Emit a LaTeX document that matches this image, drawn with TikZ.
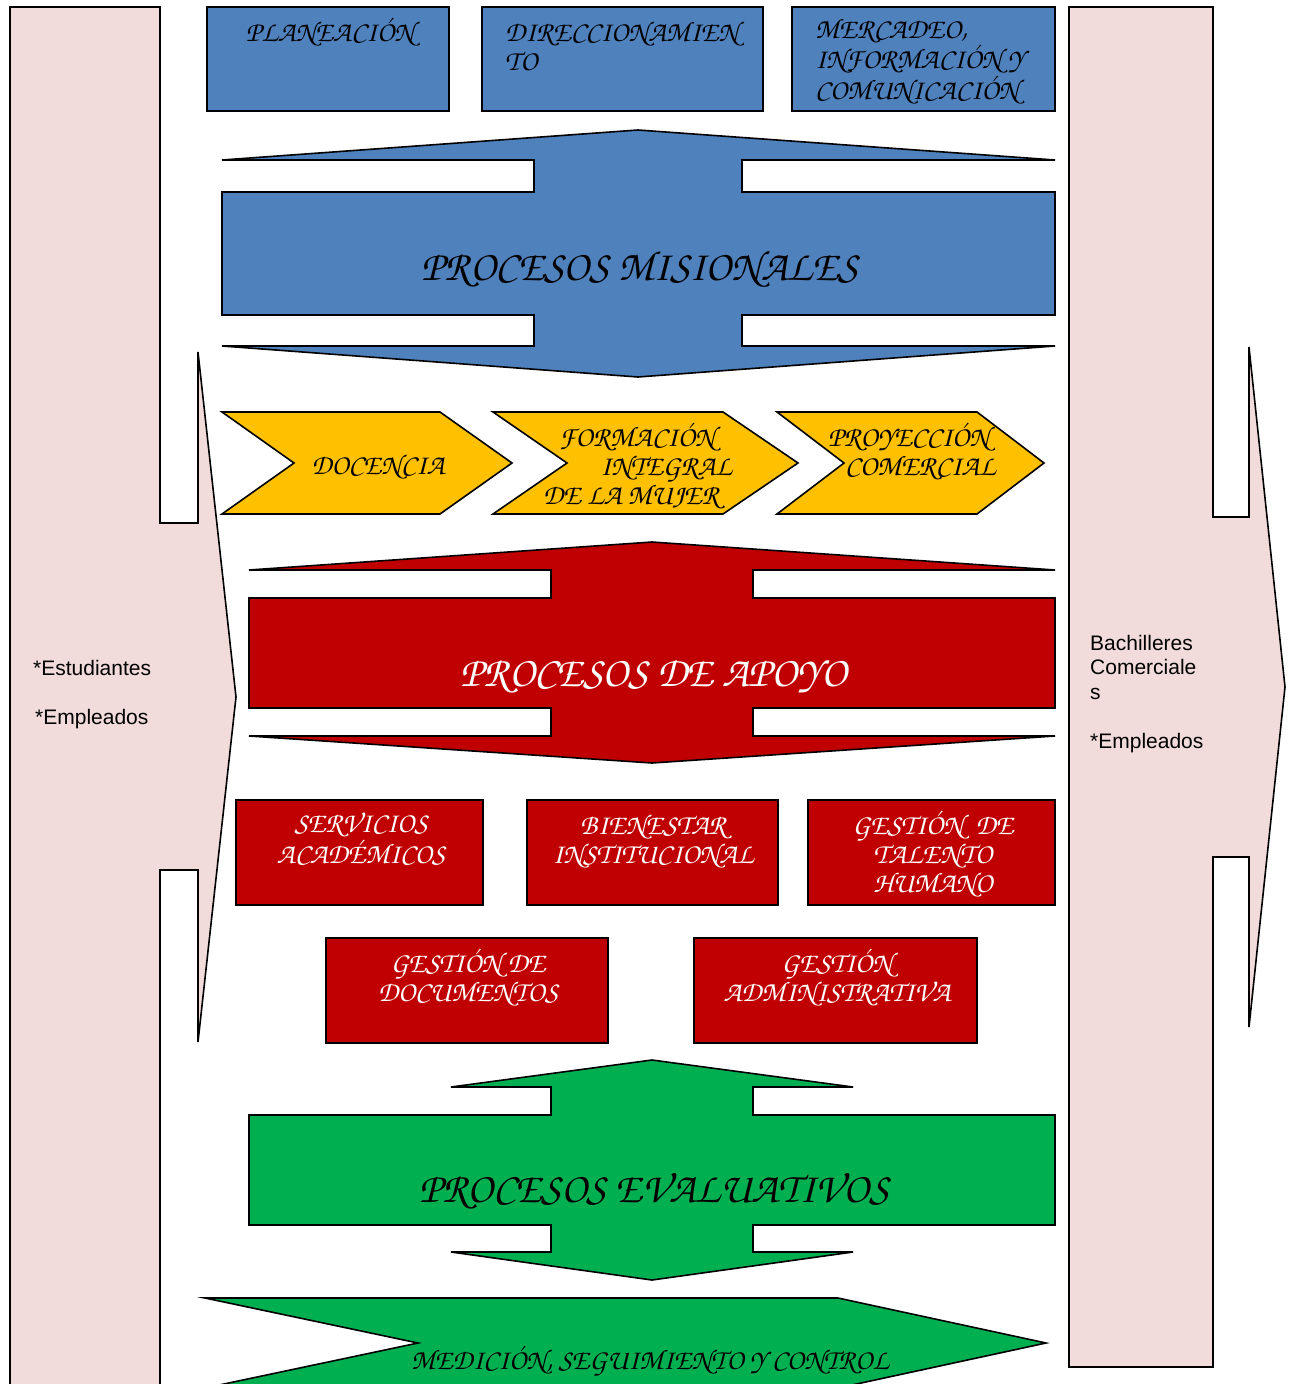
\documentclass[tikz,border=0pt]{standalone}
\usepackage[T1]{fontenc}
\usepackage{fontspec}
\newfontfamily\arialf{Liberation Sans}
\newfontfamily\serifit{Liberation Serif}
% calligraphic italic for the process labels
\IfFileExists{t1qzc.fd}{%
  \newcommand\corsiva{\fontencoding{T1}\fontfamily{qzc}\fontseries{m}\fontshape{it}\selectfont}%
  \def\smallsz{28.5}\def\bigsz{42.5}}{%
\IfFileExists{t1pzc.fd}{%
  \newcommand\corsiva{\fontencoding{T1}\fontfamily{pzc}\fontseries{m}\fontshape{it}\selectfont}%
  \def\smallsz{28.5}\def\bigsz{42.5}}{%
  \newcommand\corsiva{\serifit\itshape}%
  \def\smallsz{21}\def\bigsz{33}}}
\definecolor{pinkbg}{HTML}{F2DCDB}
\definecolor{misblue}{HTML}{4F81BD}
\definecolor{apored}{HTML}{C00000}
\definecolor{chevyel}{HTML}{FFC000}
\definecolor{evagreen}{HTML}{00B050}
\tikzset{
  outline/.style={draw=black, line width=1.6pt, line join=miter},
  scripttext/.style={inner sep=0pt, font=\corsiva\fontsize{\smallsz}{29}\selectfont},
  bigtitle/.style={inner sep=0pt, font=\corsiva\fontsize{\bigsz}{48}\selectfont},
  sidetext/.style={inner sep=0pt, anchor=base west, font=\arialf\fontsize{21}{24.5}\selectfont, align=left},
}
\begin{document}
\begin{tikzpicture}[x=1pt, y=-1pt]
\useasboundingbox (0,0) rectangle (1292,1384);
\begin{scope}
\clip (0,0) rectangle (1292,1384);

% side arrows (inputs on the left, outputs on the right)
\path[outline, fill=pinkbg] (10,7) -- (160,7) -- (160,523) -- (198,523) -- (198,352)
  -- (236,697) -- (198,1042) -- (198,870) -- (160,870) -- (160,1420) -- (10,1420) -- cycle;
\path[outline, fill=pinkbg] (1069,7) -- (1213,7) -- (1213,517) -- (1249,517) -- (1249,347)
  -- (1285,687) -- (1249,1027) -- (1249,857) -- (1213,857) -- (1213,1367) -- (1069,1367) -- cycle;

% top strategic boxes
\path[outline, fill=misblue] (207,7) rectangle (449,111);
\path[outline, fill=misblue] (482,7) rectangle (763,111);
\path[outline, fill=misblue] (792,7) rectangle (1055,111);

% missional processes (up-down callout)
\path[outline, fill=misblue] (638,130) -- (1055,160) -- (742,160) -- (742,192) -- (1055,192)
  -- (1055,315) -- (742,315) -- (742,346) -- (1055,346) -- (638,377) -- (222,346)
  -- (534,346) -- (534,315) -- (222,315) -- (222,192) -- (534,192) -- (534,160)
  -- (222,160) -- cycle;

% chevrons
\path[outline, fill=chevyel] (222,412) -- (440,412) -- (512,463) -- (440,514) -- (222,514) -- (294,463) -- cycle;
\path[outline, fill=chevyel] (493,412) -- (723,412) -- (798,463) -- (723,514) -- (493,514) -- (567,463) -- cycle;
\path[outline, fill=chevyel] (777,412) -- (977,412) -- (1044,463) -- (977,514) -- (777,514) -- (844,463) -- cycle;

% support processes
\path[outline, fill=apored] (652,542) -- (1055,570) -- (753,570) -- (753,598) -- (1055,598)
  -- (1055,708) -- (753,708) -- (753,736) -- (1055,736) -- (652,763) -- (249,736)
  -- (551,736) -- (551,708) -- (249,708) -- (249,598) -- (551,598) -- (551,570)
  -- (249,570) -- cycle;

\path[outline, fill=apored] (236,800) rectangle (483,905);
\path[outline, fill=apored] (527,800) rectangle (778,905);
\path[outline, fill=apored] (808,800) rectangle (1055,905);
\path[outline, fill=apored] (326,938) rectangle (608,1043);
\path[outline, fill=apored] (694,938) rectangle (977,1043);

% evaluative processes
\path[outline, fill=evagreen] (652,1060) -- (853,1087) -- (753,1087) -- (753,1115) -- (1055,1115)
  -- (1055,1225) -- (753,1225) -- (753,1252) -- (853,1252) -- (652,1280) -- (451,1252)
  -- (551,1252) -- (551,1225) -- (249,1225) -- (249,1115) -- (551,1115) -- (551,1087)
  -- (451,1087) -- cycle;

% measurement chevron
\path[outline, fill=evagreen] (205,1298) -- (838,1298) -- (1046,1343) -- (838,1388) -- (205,1388) -- (418,1343) -- cycle;
\end{scope}

% labels (multi-line nodes are placed by the baseline of their last line)
\node[sidetext] (inA) at (33,675) {*Estudiantes};
\node[sidetext] (inB) at (35,724) {*Empleados};
\node[sidetext] (outA) at (1090,748) {Bachilleres\\Comerciale\\s\\[24.5pt]*Empleados};

\node[scripttext, anchor=base] (plan) at (330,41) {PLANEACI\'ON};
\node[scripttext, anchor=base west, align=left] (dir) at (505,70) {DIRECCIONAMIEN\\TO};
\node[scripttext, anchor=base west, align=left] (merc) at (815,99) {MERCADEO,\\INFORMACI\'ON Y\\COMUNICACI\'ON};

\node[bigtitle, anchor=base] (mis) at (640,280) {PROCESOS MISIONALES};
\node[bigtitle, anchor=base, text=white] (apo) at (654,686) {PROCESOS DE APOYO};
\node[bigtitle, anchor=base] (eva) at (654,1202) {PROCESOS EVALUATIVOS};

\node[scripttext, anchor=base] (doc) at (378,474) {DOCENCIA};
\node[scripttext, anchor=base west, align=left] (form) at (543,504)
  {\hspace*{16pt}FORMACI\'ON\\\hspace*{57pt}INTEGRAL\\DE LA MUJER};
\node[scripttext, anchor=base west, align=left] (proy) at (828,475)
  {PROYECCI\'ON\\\hspace*{17pt}COMERCIAL};

\node[scripttext, text=white, anchor=base, align=center] (serv) at (361,863) {SERVICIOS\\ACAD\'EMICOS};
\node[scripttext, text=white, anchor=base, align=center] (bien) at (653,863) {BIENESTAR\\INSTITUCIONAL};
\node[scripttext, text=white, anchor=base, align=center] (tal) at (933,892) {GESTI\'ON\ \ DE\\TALENTO\\HUMANO};
\node[scripttext, text=white, anchor=base, align=center] (gdoc) at (468,1001) {GESTI\'ON DE\\DOCUMENTOS};
\node[scripttext, text=white, anchor=base, align=center] (gadm) at (837,1001) {GESTI\'ON\\ADMINISTRATIVA};

\node[scripttext, anchor=base] (med) at (650,1369) {MEDICI\'ON, SEGUIMIENTO Y CONTROL};
\end{tikzpicture}
\end{document}
